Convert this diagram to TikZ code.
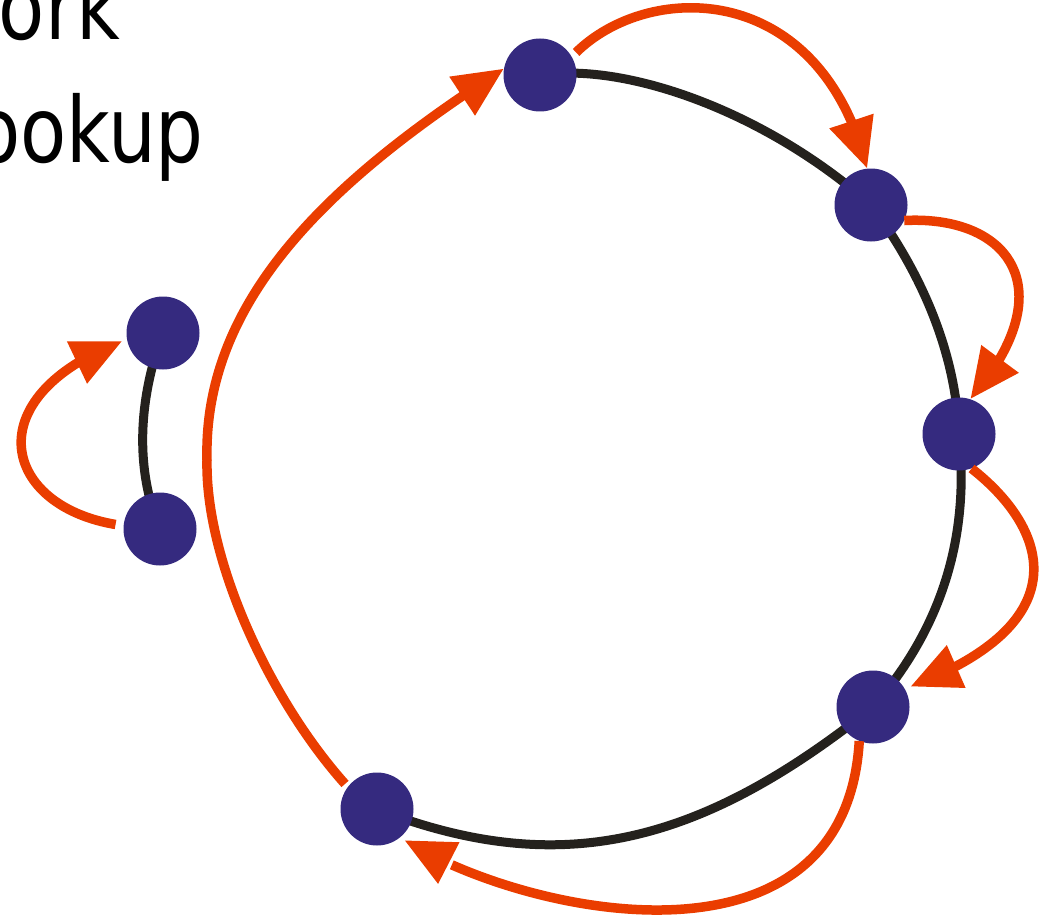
\documentclass[tikz,border=0pt]{standalone}
\usepackage{fontspec}
\setmainfont{DejaVu Sans}
\usetikzlibrary{arrows.meta,bending,backgrounds}
\definecolor{nodeblue}{HTML}{352A7F}
\definecolor{ringblack}{HTML}{24211D}
\definecolor{arrowred}{HTML}{EA3D00}
\begin{document}
\begin{tikzpicture}[x=1pt,y=-1pt,
  peer/.style={circle,fill=nodeblue,minimum size=73pt,inner sep=0pt},
  ring/.style={draw=ringblack,line width=9pt},
  hop/.style={draw=arrowred,line width=9.5pt,-{Triangle[length=50pt,width=44pt,flex]}},
  titletext/.style={font=\fontsize{91}{100}\selectfont,inner sep=0pt,anchor=base east}
]
\useasboundingbox (0,0) rectangle (1046,923);

\node[titletext] (t1) at (120,40) {\scalebox{0.83}[1]{ork}};
\node[titletext] (t2) at (204,162) {\scalebox{0.83}[1]{ookup}};

\node[peer] (A) at (540,75) {};
\node[peer] (B) at (871,205) {};
\node[peer] (C) at (959,434) {};
\node[peer] (D) at (873,707) {};
\node[peer] (E) at (377,809) {};
\node[peer] (F) at (163,333) {};
\node[peer] (G) at (160,529) {};

\begin{scope}[on background layer]
\draw[ring] (A.center) .. controls (630,62) and (770,115) .. (B.center);
\draw[ring] (B.center) .. controls (912,260) and (955,340) .. (C.center);
\draw[ring] (C.center) .. controls (970,540) and (940,630) .. (D.center);
\draw[ring] (D.center) .. controls (700,845) and (560,880) .. (E.center);
\draw[ring] (F.center) .. controls (138,400) and (135,470) .. (G.center);
\end{scope}

\draw[hop,shorten <=6pt] (A.30) .. controls (650,-20) and (820,-20) .. (B.96);
\draw[hop] (B.-25) .. controls (1010,215) and (1065,290) .. (C.72);
\draw[hop,shorten >=6pt] (C.-70) .. controls (1050,530) and (1080,625) .. (D.30);
\draw[hop,shorten >=5pt] (D.-112) .. controls (845,985) and (520,915) .. (E.-51);
\draw[hop,shorten <=4pt] (E.143) .. controls (270,700) and (205,560) .. (207,460)
      .. controls (203,300) and (330,180) .. (A.170);
\draw[hop,shorten <=8pt,shorten >=5pt] (G.175) .. controls (0,505) and (-25,395) .. (F.190);
\end{tikzpicture}
\end{document}
